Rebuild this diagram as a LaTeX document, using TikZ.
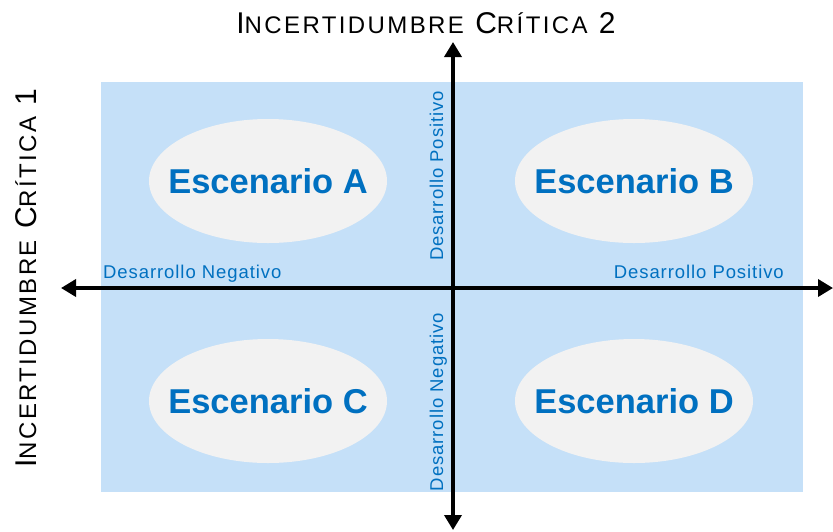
\documentclass[tikz,border=0pt]{standalone}
\usepackage{fontspec}
\setmainfont{Liberation Sans}
\usetikzlibrary{arrows.meta}

\definecolor{panelblue}{HTML}{C5E0F8}
\definecolor{textblue}{HTML}{0070C0}
\definecolor{ovalgray}{HTML}{F2F2F2}

% fake small caps for the axis titles
\newcommand{\capsmall}[1]{{\fontsize{24}{24}\selectfont #1}}
\newcommand{\axistitle}[2]{\fontsize{30}{30}\selectfont #1\capsmall{#2}}

\begin{document}
\begin{tikzpicture}[x=1pt, y=-1pt,
   scenario/.style={text=textblue, inner sep=0pt,
      font=\bfseries\fontsize{34.5}{34.5}\selectfont},
   devlabel/.style={text=textblue, inner sep=0pt,
      font=\addfontfeature{LetterSpace=5}\fontsize{18.5}{18.5}\selectfont},
   titlelabel/.style={inner sep=0pt, font=\addfontfeature{LetterSpace=10}},
   axis/.style={line width=3.6pt, {Triangle[length=15pt,width=17pt]}-{Triangle[length=15pt,width=17pt]}}]
\useasboundingbox (0,0) rectangle (833,531);

% background panel
\fill[panelblue] (101,82) rectangle (803,492);

% the two axes
\coordinate (west) at (61,288);
\coordinate (east) at (833,288);
\coordinate (north) at (453,42);
\coordinate (south) at (453,530);
\draw[axis] (west) -- (east);
\draw[axis] (north) -- (south);

% scenarios
\foreach \x/\y/\s in {268/181/A, 634/181/B, 268/401/C, 634/401/D} {
   \fill[ovalgray] (\x,\y) ellipse [x radius=119pt, y radius=62pt];
   \node[scenario] (scen\s) at (\x,\y) {Escenario \s};
};

% axis directions
\node[devlabel, anchor=base west] (negH) at (103,278) {Desarrollo Negativo};
\node[devlabel, anchor=base east] (posH) at (784,278) {Desarrollo Positivo};
\node[devlabel, rotate=90, anchor=base] (posV) at (443,176) {Desarrollo Positivo};
\node[devlabel, rotate=90, anchor=base] (negV) at (443,402) {Desarrollo Negativo};

% titles
\node[titlelabel, anchor=base] (title2) at (426,33)
   {\axistitle{I}{NCERTIDUMBRE} \axistitle{C}{RÍTICA} \axistitle{2}{}};
\node[titlelabel, anchor=base, rotate=90] (title1) at (36,278)
   {\axistitle{I}{NCERTIDUMBRE} \axistitle{C}{RÍTICA} \axistitle{1}{}};
\end{tikzpicture}
\end{document}
